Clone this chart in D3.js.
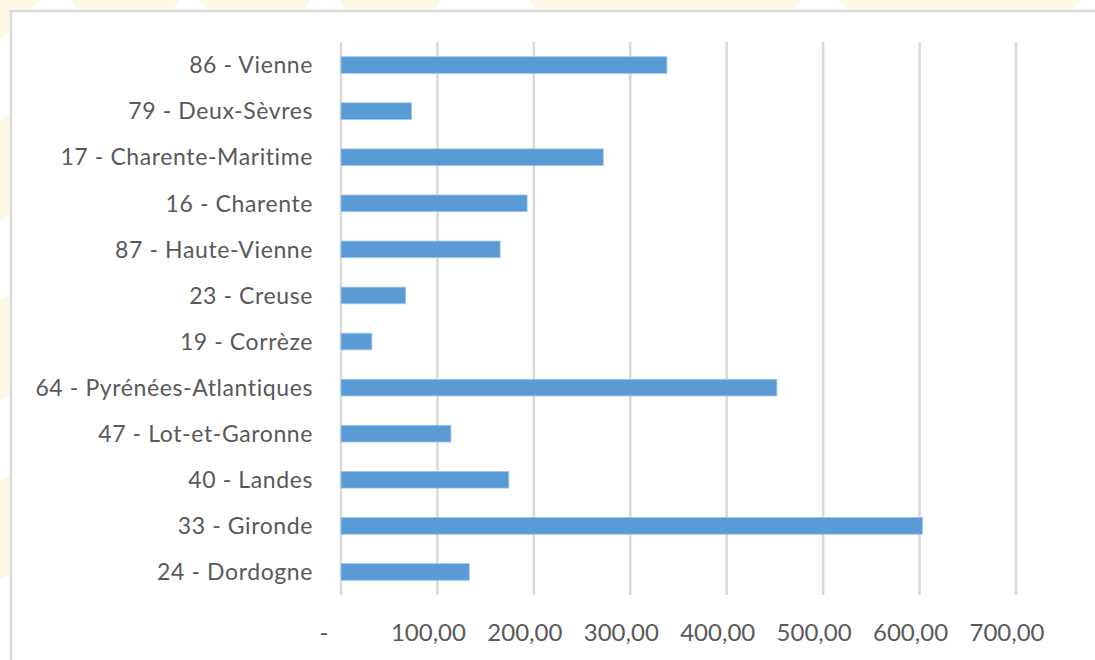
<!DOCTYPE html>
<html>
<head>
<meta charset="utf-8">
<script src="https://cdn.jsdelivr.net/npm/d3@7"></script>
<style>
  html, body { margin: 0; padding: 0; background: #fff; }
</style>
</head>
<body>
<div id="chart"></div>
<script>
const departements = [
  "86 - Vienne",
  "79 - Deux-Sèvres",
  "17 - Charente-Maritime",
  "16 - Charente",
  "87 - Haute-Vienne",
  "23 - Creuse",
  "19 - Corrèze",
  "64 - Pyrénées-Atlantiques",
  "47 - Lot-et-Garonne",
  "40 - Landes",
  "33 - Gironde",
  "24 - Dordogne"
];
const valeurs = [338, 73, 272, 193, 165, 67, 32, 452, 114, 174, 603, 133];
const xTicks = [0, 100, 200, 300, 400, 500, 600, 700];

const width = 1095;
const height = 660;
const marginTop = 42;
const marginLeft = 341;
const plotRight = 1016;
const plotBottom = 595;

const svg = d3
  .create("svg")
  .attr("viewBox", [0, 0, width, height])
  .attr("width", width)
  .attr("height", height)
  .style("font-family", "Lato, 'Open Sans', sans-serif");

// faint watermark behind the chart frame
const wm = svg.append("g").attr("fill", "#fef8e6");
[
  [[0, 0], [40, 0], [0, 40]],
  [[70, 0], [180, 0], [140, 60], [110, 60]],
  [[200, 0], [310, 0], [270, 60], [240, 60]],
  [[340, 0], [440, 0], [410, 60], [370, 60]],
  [[530, 0], [800, 0], [760, 60], [570, 60]],
  [[840, 0], [1080, 0], [1040, 60], [880, 60]],
  [[0, 120], [40, 100], [40, 200], [0, 220]],
  [[0, 300], [40, 280], [40, 380], [0, 400]],
  [[0, 480], [40, 460], [40, 560], [0, 580]]
].forEach((pts) => wm.append("polygon").attr("points", pts.join(" ")));

// chart area + frame
svg
  .append("rect")
  .attr("x", 11)
  .attr("y", 11)
  .attr("width", width + 10)
  .attr("height", height + 10)
  .attr("fill", "#fff")
  .attr("stroke", "#d9d9d9")
  .attr("stroke-width", 2.5);

const x = d3.scaleLinear().domain([0, 700]).range([marginLeft, plotRight]);

const y = d3
  .scaleBand()
  .domain(departements)
  .range([marginTop, plotBottom])
  .paddingInner(0.64)
  .paddingOuter(0.32);

// vertical gridlines
svg
  .append("g")
  .selectAll("line")
  .data(xTicks)
  .join("line")
  .attr("x1", (d) => x(d))
  .attr("x2", (d) => x(d))
  .attr("y1", marginTop)
  .attr("y2", plotBottom)
  .attr("stroke", "#d9d9d9")
  .attr("stroke-width", 2.5);

// bars
const rows = departements.map((name, i) => ({ name, value: valeurs[i] }));

svg
  .append("g")
  .selectAll("rect")
  .data(rows)
  .join("rect")
  .attr("x", x(0))
  .attr("y", (d) => y(d.name))
  .attr("width", (d) => x(d.value) - x(0))
  .attr("height", y.bandwidth())
  .attr("fill", "#5b9bd5")
  .attr("stroke", "#9dc3e6")
  .attr("stroke-width", 0.8);

// category labels
svg
  .append("g")
  .selectAll("text")
  .data(departements)
  .join("text")
  .attr("x", marginLeft - 28)
  .attr("y", (d) => y(d) + y.bandwidth() / 2)
  .attr("dy", "0.36em")
  .attr("text-anchor", "end")
  .attr("font-size", 23)
  .attr("letter-spacing", 0.6)
  .attr("fill", "#595959")
  .text((d) => d);

// value axis labels (accounting style, "-" for zero)
const fmt = (v) => (v === 0 ? "-" : d3.format(".2f")(v).replace(".", ","));

svg
  .append("g")
  .selectAll("text")
  .data(xTicks)
  .join("text")
  .attr("x", (d) => x(d) - (d === 0 ? 17 : 9))
  .attr("y", 632)
  .attr("dy", "0.36em")
  .attr("text-anchor", "middle")
  .attr("font-size", 24)
  .attr("fill", "#595959")
  .text(fmt);

d3.select("#chart").append(() => svg.node());
</script>
</body>
</html>
